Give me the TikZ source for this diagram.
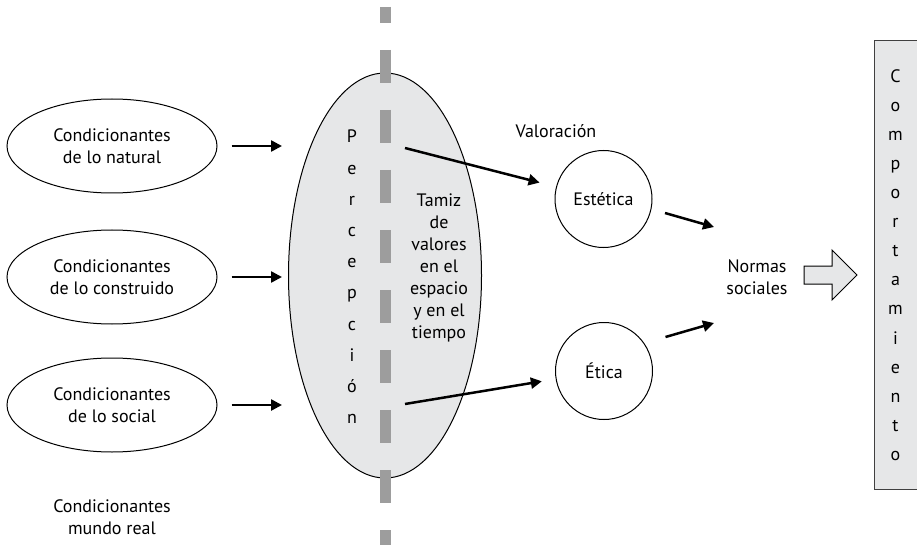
\documentclass[tikz,border=0pt]{standalone}
\usepackage{fontspec}
\setmainfont{PT Sans}
\usepackage{tikz}
\usetikzlibrary{arrows.meta, shapes.geometric}
\definecolor{tamiz}{HTML}{E6E7E8}
\definecolor{linea}{HTML}{9D9D9D}

\begin{document}
\begin{tikzpicture}
    [x=1pt, y=-1pt,
      every node/.style={font=\fontsize{18}{22}\selectfont, align=center},
      cond/.style={ellipse, draw, line width=1pt, inner sep=0pt,
        minimum width=210pt, minimum height=94pt},
      valor/.style={circle, draw, line width=1pt, inner sep=0pt, minimum size=97pt},
      vertical/.style={font=\fontsize{18}{#1}\selectfont},
      flecha/.style={line width=2.5pt, -{Triangle[length=11pt, width=11pt]}}]
    \useasboundingbox (0,0) rectangle (917,545);

    \node[cond] (natural) at (112,146) {Condicionantes\\de lo natural};
    \node[cond] (construido) at (112,277) {Condicionantes\\de lo construido};
    \node[cond] (social) at (112,405) {Condicionantes\\de lo social};
    \node (real) at (112,517) {Condicionantes\\mundo real};

    \node[ellipse, draw, line width=1pt, fill=tamiz, inner sep=0pt,
      minimum width=193pt, minimum height=405pt] (perc) at (385,275.5) {};
    \draw[linea, line width=11pt, dash pattern=on 33pt off 27pt, dash phase=17pt]
      (385,7) -- (385,545);
    \node[vertical=31.2] (percepcion) at (352,277) {P\\e\\r\\c\\e\\p\\c\\i\\ó\\n};
    \node (tamizvalores) at (439,268) {Tamiz\\de\\valores\\en el\\espacio\\y en el\\tiempo};

    \node (valoracion) at (556,131) {Valoración};
    \node[valor] (estetica) at (603.5,199) {Estética};
    \node[valor] (etica) at (604,371) {Ética};
    \node (normas) at (757,277) {Normas\\sociales};
    \node[draw=black!75, line width=1pt, fill=tamiz, inner sep=0pt,
      minimum width=43pt, minimum height=448pt, vertical=29.1]
      (comportamiento) at (895.5,265) {C\\o\\m\\p\\o\\r\\t\\a\\m\\i\\e\\n\\t\\o};

    \coordinate (n1) at (714,227);
    \coordinate (n2) at (714,323);

    \foreach \c in {natural, construido, social}
      \draw[flecha, shorten <=14pt, shorten >=6pt] (\c.east) -- (\c.east -| perc.west);
    \draw[flecha, shorten >=17pt] ([shift={(20,-127.5)}]perc.center) -- (estetica);
    \draw[flecha, shorten >=14pt] ([shift={(20,128.5)}]perc.center) -- (etica);
    \draw[flecha] ([shift={(12.5,14)}]estetica.east) -- (n1);
    \draw[flecha] ([shift={(12.5,-34)}]etica.east) -- (n2);

    \draw[line width=1pt, fill=tamiz, line join=miter]
      (804,266) -- (832,266) -- (832,250) -- (857,275) -- (832,300)
      -- (832,284) -- (804,284) -- cycle;
\end{tikzpicture}
\end{document}
